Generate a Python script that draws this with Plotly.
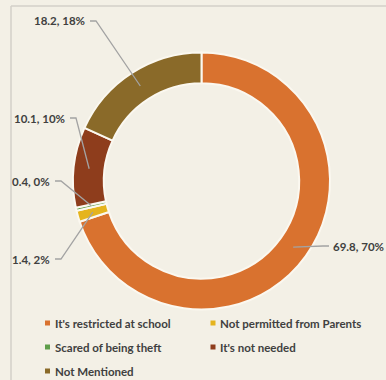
import math
import plotly.graph_objects as go

# ---- data ----
categories = ["It's restricted at school", "Not permitted from Parents",
              "Scared of being theft", "It's not needed", "Not Mentioned"]
values = [69.8, 1.4, 0.4, 10.1, 18.2]
percent_labels = ["70%", "2%", "0%", "10%", "18%"]
colors = ["#D9722F", "#E5B41E", "#5E9E4A", "#8E3D1C", "#8A6A29"]

# ---- layout constants (pixels) ----
W, H = 386, 380
CX, CY, R = 201.5, 181.0, 128.5
HOLE = 0.76
R_LEAD = 113
BG = "#F3F0E6"
TXT = "#404040"
FONT = "Lato"
FSIZE = 11.5

# label anchor (pixel x, pixel y, side) per slice
label_pos = [(329, 246, "right"), (55, 259, "left"), (55, 181, "left"),
             (70, 118, "left"), (90, 21, "left")]
# legend layout: (marker center x, text x, y)
legend_pos = [(47.5, 53, 323), (213, 218, 323), (47.5, 53, 347),
              (213, 218, 347), (47.5, 53, 371)]


def px(x):
    return x / W


def py(y):
    return 1 - y / H


fig = go.Figure()
fig.add_trace(go.Pie(
    labels=categories, values=values, sort=False, direction="clockwise",
    rotation=0, hole=HOLE, textinfo="none", hoverinfo="label+value+percent",
    marker=dict(colors=colors, line=dict(color="#FBF8F0", width=2)),
    domain=dict(x=[px(CX - R), px(CX + R)], y=[py(CY + R), py(CY - R)]),
    showlegend=False,
))

shapes = []
annotations = []
total = sum(values)
cum = 0.0
for i, v in enumerate(values):
    mid = (cum + v / 2) / total * 2 * math.pi
    cum += v
    ex = CX + R_LEAD * math.sin(mid)
    ey = CY - R_LEAD * math.cos(mid)
    lx, ly, side = label_pos[i]
    elbow = lx + 6 if side == "left" else lx - 6
    shapes.append(dict(
        type="path", xref="paper", yref="paper",
        path=f"M{px(lx)},{py(ly)} L{px(elbow)},{py(ly)} L{px(ex)},{py(ey)}",
        line=dict(color="#A3A3A3", width=1.3)))
    annotations.append(dict(
        text=f"<b>{v}, {percent_labels[i]}</b>", xref="paper", yref="paper",
        x=px(lx - 3) if side == "left" else px(lx + 2), y=py(ly),
        xanchor="right" if side == "left" else "left", yanchor="middle",
        showarrow=False, font=dict(family=FONT, size=FSIZE, color=TXT)))

for i, name in enumerate(categories):
    mx, tx, ly = legend_pos[i]
    shapes.append(dict(type="rect", xref="paper", yref="paper",
                       x0=px(mx - 2.5), x1=px(mx + 2.5), y0=py(ly + 2.5), y1=py(ly - 2.5),
                       fillcolor=colors[i], line=dict(width=0)))
    annotations.append(dict(
        text=f"<b>{name}</b>", xref="paper", yref="paper", x=px(tx), y=py(ly),
        xanchor="left", yanchor="middle", showarrow=False,
        font=dict(family=FONT, size=FSIZE, color=TXT)))

# frame lines
shapes.append(dict(type="line", xref="paper", yref="paper", x0=px(11), x1=1,
                   y0=py(6), y1=py(6), line=dict(color="#D3D0C8", width=1.5)))
shapes.append(dict(type="line", xref="paper", yref="paper", x0=px(11), x1=px(11),
                   y0=py(6), y1=0, line=dict(color="#D3D0C8", width=1.5)))

fig.update_layout(
    width=W, height=H, margin=dict(l=0, r=0, t=0, b=0),
    paper_bgcolor=BG, plot_bgcolor=BG,
    shapes=shapes, annotations=annotations, showlegend=False,
)
fig.write_html("out.html")
